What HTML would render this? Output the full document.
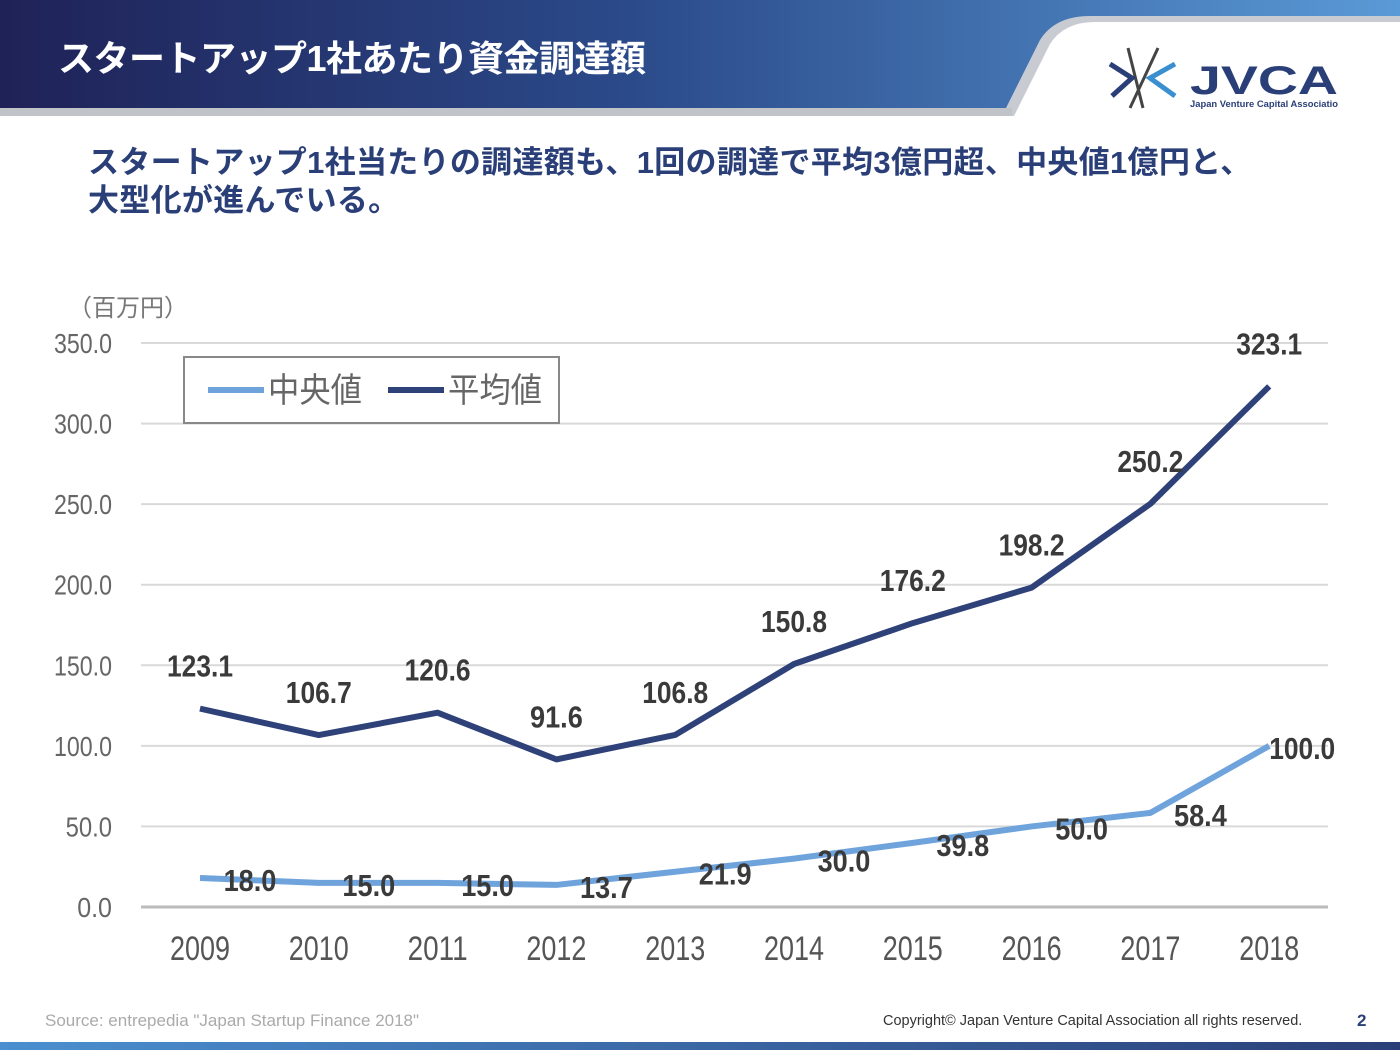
<!DOCTYPE html>
<html><head><meta charset="utf-8">
<style>
body{margin:0;width:1400px;height:1050px;overflow:hidden;background:#fff;font-family:"Liberation Sans","Noto Sans CJK JP",sans-serif;position:relative}
.hdr{position:absolute;left:0;top:0;width:1400px;height:120px}
.title{position:absolute;left:58px;top:30px;color:#fff;font-size:36px;font-weight:bold;letter-spacing:-0.5px}
.sub{position:absolute;left:88px;top:144px;color:#2a3f78;font-size:31px;font-weight:bold;line-height:38px;letter-spacing:0.3px}
.foot{position:absolute;top:1011px;font-size:16px;color:#aaa}
</style></head><body>
<svg class="hdr" width="1400" height="120">
<defs><linearGradient id="g" x1="0" x2="1"><stop offset="0" stop-color="#1f2257"/><stop offset="0.45" stop-color="#2b4a8a"/><stop offset="1" stop-color="#5a9ad6"/></linearGradient></defs>
<rect x="0" y="0" width="1400" height="120" fill="url(#g)"/>
<path d="M1000,120 L1040,40 Q1055,16 1090,16 L1400,16 L1400,120 Z" fill="#c8ccd2"/>
<path d="M1012,120 L1050,44 Q1064,22 1095,22 L1400,22 L1400,120 Z" fill="#fff"/>
<rect x="0" y="108" width="1012" height="8" fill="#c0c3c8"/>
<rect x="0" y="116" width="1400" height="4" fill="#fff"/>
<g>
<line x1="1128" y1="48" x2="1143" y2="108" stroke="#444" stroke-width="3"/>
<line x1="1158" y1="48" x2="1130" y2="108" stroke="#444" stroke-width="3"/>
<path d="M1110,64 L1132,78 L1112,96" stroke="#2a3f78" stroke-width="5" fill="none"/>
<path d="M1175,64 L1150,78 L1175,96" stroke="#3a8fd0" stroke-width="5" fill="none"/>
<text x="1190" y="94" font-size="40" font-weight="bold" fill="#2a3f78" font-family="Liberation Sans" textLength="148" lengthAdjust="spacingAndGlyphs">JVCA</text>
<text x="1190" y="107" font-size="9" fill="#2a3f78" font-weight="bold" textLength="148" lengthAdjust="spacingAndGlyphs">Japan Venture Capital Associatio</text>
</g>
</svg>
<div class="title">スタートアップ1社あたり資金調達額</div>
<div class="sub">スタートアップ1社当たりの調達額も、1回の調達で平均3億円超、中央値1億円と、<br>大型化が進んでいる。</div>
<svg id="chart" width="1400" height="1050" style="position:absolute;left:0;top:0"></svg>
<div class="foot" style="left:45px;font-size:17px">Source: entrepedia "Japan Startup Finance 2018"</div>
<div class="foot" style="left:883px;color:#333;font-size:14.5px;top:1013px">Copyright© Japan Venture Capital Association all rights reserved.</div>
<div class="foot" style="left:1357px;color:#2a3f78;font-weight:bold;font-size:17px">2</div>
<div style="position:absolute;left:0;top:1042px;width:1400px;height:8px;background:linear-gradient(90deg,#4b8fd0,#2a3f78)"></div>
<script>
const years=["2009","2010","2011","2012","2013","2014","2015","2016","2017","2018"];
const median=[18.0,15.0,15.0,13.7,21.9,30.0,39.8,50.0,58.4,100.0];
const average=[123.1,106.7,120.6,91.6,106.8,150.8,176.2,198.2,250.2,323.1];
const ticks=[0,50,100,150,200,250,300,350];
const svg=document.getElementById('chart');
const NS='http://www.w3.org/2000/svg';
const xS=i=>200+i*118.8;
const yS=v=>907-v*(564/350);
function mk(t,a){const e=document.createElementNS(NS,t);for(const k in a)e.setAttribute(k,a[k]);svg.appendChild(e);return e;}
const fam='"Liberation Sans",sans-serif';
ticks.forEach(v=>{
 const l=mk('line',{x1:141,x2:1328,y1:yS(v),y2:yS(v),stroke:v===0?'#bbb':'#d9d9d9','stroke-width':v===0?3:2});
 
 
 const s=v.toFixed(1);
 const t=mk('text',{x:112,y:yS(v)+10,'text-anchor':'end','font-size':28,fill:'#666','font-family':fam,textLength:s.length*11.6,lengthAdjust:'spacingAndGlyphs'});
 t.textContent=s;
 
 
});
const u=mk('text',{x:68,y:316,'font-size':24,fill:'#777','font-family':'"Noto Sans CJK JP",sans-serif'});
u.textContent='（百万円）';


years.forEach((y,i)=>{
 const t=mk('text',{x:xS(i),y:960,'text-anchor':'middle','font-size':34,fill:'#555','font-family':fam,textLength:60,lengthAdjust:'spacingAndGlyphs'});
 t.textContent=y;
 
 
});
function series(arr,color,name){
 const p=mk('polyline',{points:arr.map((v,i)=>xS(i)+','+yS(v)).join(' '),fill:'none',stroke:color,'stroke-width':6,'stroke-linejoin':'round'});
 
 
}
series(median,'#6fa3dc','median');
series(average,'#2e4279','average');
function lab(x,y,txt,name){
 const t=mk('text',{x:x,y:y,'text-anchor':'middle','font-size':31,'font-weight':'bold',fill:'#3a3a3a','font-family':fam,textLength:txt.length*13.2,lengthAdjust:'spacingAndGlyphs'});
 t.textContent=txt;
 
 
}
average.forEach((v,i)=>lab(xS(i),yS(v)-32,v.toFixed(1),'average-label'));
median.forEach((v,i)=>lab(xS(i)+(i===9?33:50),yS(v)+13,v.toFixed(1),'median-label'));
const lg=mk('rect',{x:184,y:357,width:375,height:66,fill:'#fff',stroke:'#888','stroke-width':2});


[['中央値','#6fa3dc',208],['平均値','#2e4279',388]].forEach(([n,c,x])=>{
 const l=mk('line',{x1:x,x2:x+56,y1:390,y2:390,stroke:c,'stroke-width':6});
 
 
 const t=mk('text',{x:x+60,y:402,'font-size':34,fill:'#666','font-family':'"Noto Sans CJK JP",sans-serif',textLength:94,lengthAdjust:'spacingAndGlyphs'});
 t.textContent=n;
 
 
});
</script>
</body></html>
